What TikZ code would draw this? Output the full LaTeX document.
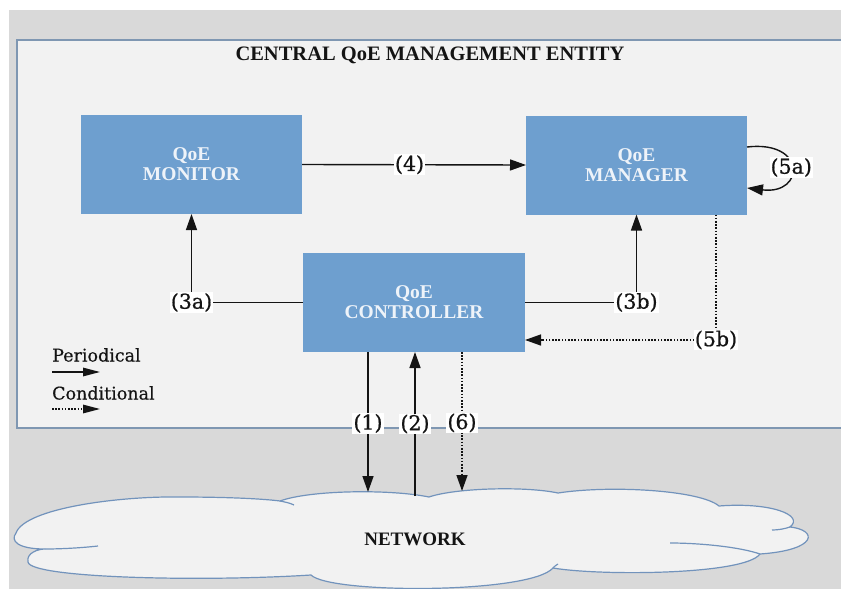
\documentclass[tikz,border=0pt]{standalone}
\usepackage{fontspec}
\setmainfont{Liberation Serif}
\newfontfamily\lblfont[FakeBold=0.7]{DejaVu Serif}
\newfontfamily\legfont[FakeBold=0.4]{DejaVu Serif}
\usetikzlibrary{arrows.meta,calc}

\definecolor{bggray}{HTML}{D9D9D9}
\definecolor{panelfill}{HTML}{F2F2F2}
\definecolor{panelborder}{HTML}{7F97B2}
\definecolor{boxfill}{HTML}{6E9FCF}
\definecolor{boxtext}{HTML}{EEF3F9}
\definecolor{cloudline}{HTML}{7293BC}
\definecolor{ink}{HTML}{141414}

\tikzset{
  qbox/.style={fill=boxfill, minimum width=221pt, minimum height=99pt,
    inner sep=0pt, outer sep=0pt, align=center, text=boxtext,
    font=\bfseries\fontsize{19.5}{20}\selectfont},
  lbl/.style={fill=white, inner sep=1pt, text=ink,
    font=\lblfont\fontsize{20.5}{20.5}\selectfont},
  legendtext/.style={anchor=west, inner sep=0pt, text=ink,
    font=\legfont\fontsize{17.5}{17.5}\selectfont},
  arr/.style={draw=ink, line width=1.4pt, -{Triangle[length=16pt,width=11pt]}},
  darr/.style={arr, dash pattern=on 1.6pt off 1.6pt},
  legarr/.style={draw=ink, line width=1.4pt, -{Triangle[length=17pt,width=8.5pt]}},
}

\begin{document}
\begin{tikzpicture}[x=1pt,y=-1pt]
  \useasboundingbox (0,0) rectangle (841,589);
  \fill[white] (0,0) rectangle (841,589);
  \fill[bggray] (9,10) rectangle (841,589);

  % management entity panel, open at the right edge
  \fill[panelfill] (17,40) rectangle (841,428);
  \draw[panelborder, line width=1.5pt] (841,40) -- (17,40) -- (17,428) -- (841,428);
  \node[font=\bfseries\fontsize{20.5}{20.5}\selectfont, text=ink] (title) at (430,55)
    {CENTRAL QoE MANAGEMENT ENTITY};

  % functional blocks
  \node[qbox] (mon) at (191.5,164.5) {QoE\\MONITOR};
  \node[qbox] (mgr) at (636.5,165) {QoE\\MANAGER};
  \node[qbox, minimum width=222pt] (ctrl) at (414,302.5) {QoE\\CONTROLLER};

  % network cloud
  \filldraw[fill=panelfill, draw=cloudline, line width=1.2pt]
    (280,501) .. controls (310,490) and (390,489) .. (429,497)
    .. controls (455,488) and (525,486) .. (558,493)
    .. controls (610,485) and (700,490) .. (719,506)
    .. controls (770,502) and (805,515) .. (790,527)
    .. controls (818,530) and (818,550) .. (760,554)
    .. controls (745,575) and (600,576) .. (553,568)
    .. controls (530,594) and (330,594) .. (311,575)
    .. controls (200,582) and (30,578) .. (28,562)
    .. controls (26,553) and (38,549) .. (45,549)
    .. controls (18,549) and (10,541) .. (16,533)
    .. controls (25,508) and (120,496) .. (180,497)
    .. controls (230,497) and (265,499) .. cycle;
  \draw[cloudline, line width=1.2pt]
    (45,549) .. controls (60,549) and (80,548) .. (98,546);
  \draw[cloudline, line width=1.2pt]
    (280,501) .. controls (285,502) and (290,503) .. (294,505);
  \draw[cloudline, line width=1.2pt]
    (760,554) .. controls (740,547) and (700,543) .. (670,543);
  \draw[cloudline, line width=1.2pt]
    (790,527) .. controls (784,529) and (778,530) .. (772,530);
  \draw[cloudline, line width=1.2pt]
    (553,568) .. controls (555,566) and (556,565) .. (558,564);
  \node[font=\bfseries\fontsize{19}{19}\selectfont, text=ink] (net) at (415,539) {NETWORK};

  \coordinate (n1) at (368,492);
  \coordinate (n2) at (415,496);
  \coordinate (n6) at (462,491);

  % periodical flows
  \draw[arr] (mon.east) -- node[lbl, pos=0.48] {(4)} (mgr.west);
  \draw[arr] (ctrl.west) -| node[lbl, pos=0.5] {(3a)} (mon.south);
  \draw[arr] (ctrl.east) -| node[lbl, pos=0.5] {(3b)} (mgr.south);
  \draw[arr] ([yshift=18pt]mgr.east) .. controls +(60,-7) and +(58,7)
    .. node[lbl, pos=0.5] {(5a)} ([yshift=-23pt]mgr.east);
  \draw[arr] ([xshift=-46pt]ctrl.south) -- node[lbl, pos=0.51] {(1)} (n1);
  \draw[arr] (n2) -- node[lbl, pos=0.5] {(2)} (n2 |- ctrl.south);

  % conditional flows
  \draw[darr] ([xshift=-31pt]mgr.south east) |- node[lbl, pos=0.5] {(5b)}
    ([yshift=12pt]ctrl.south east);
  \draw[darr] ([xshift=48pt]ctrl.south) -- node[lbl, pos=0.51] {(6)} (n6);

  % legend
  \node[legendtext] (lp) at (52,355) {Periodical};
  \coordinate (lpa) at (52,372);
  \coordinate (lpb) at (100,372);
  \draw[legarr] (lpa) -- (lpb);
  \node[legendtext] (lc) at (52,393) {Conditional};
  \coordinate (lca) at (52,409);
  \coordinate (lcb) at (100,409);
  \draw[legarr, dash pattern=on 1.6pt off 1.6pt] (lca) -- (lcb);
\end{tikzpicture}
\end{document}
